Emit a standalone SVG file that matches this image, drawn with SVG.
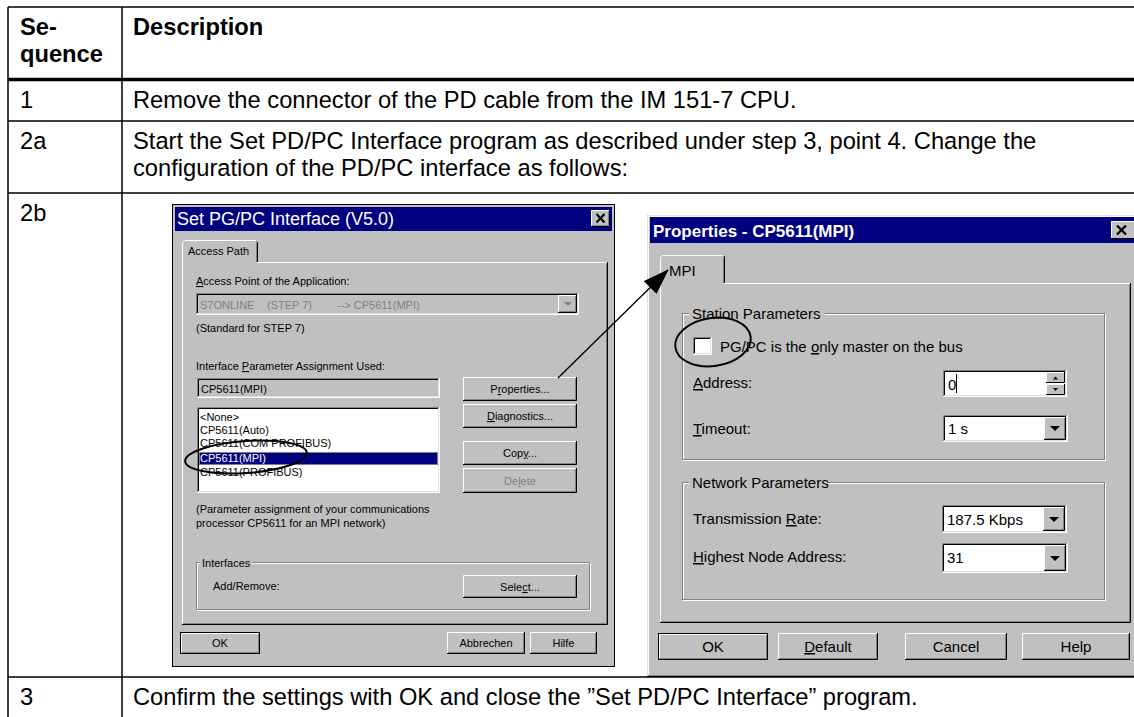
<svg xmlns="http://www.w3.org/2000/svg" width="1134" height="717" viewBox="0 0 1134 717">
<style>
text{font-family:"Liberation Sans",Arial,Helvetica,sans-serif;fill:#000}
.doc{font-size:23.7px}
.b{font-weight:bold}
.ui{font-size:11px}
.ui2{font-size:15px}
.mid{text-anchor:middle}
.grey{fill:#808080}
.wht{fill:#fff}
.u{text-decoration:underline}
.face{fill:#c0c0c0}
.hl{stroke:#fff;fill:none}
.lt{stroke:#dfdfdf;fill:none}
.sh{stroke:#808080;fill:none}
.dk{stroke:#000;fill:none}
.tl{stroke:#000;stroke-width:1.5;fill:none}
.ring{fill:none;stroke:#000;stroke-width:2}
</style>
<defs>
<marker id="ah" viewBox="0 0 26 18" markerWidth="26" markerHeight="18" refX="25" refY="9" orient="auto" markerUnits="userSpaceOnUse">
<path d="M0,0 L26,9 L0,18 z" fill="#000"/>
</marker>
</defs>

<g id="table">
<path class="tl" d="M8,7 H1134 M8,121 H1134 M8,193 H1134 M8,677 H1134 M8,7 V717 M122,7 V717"/>
<path d="M8,79.5 H1134" stroke="#000" stroke-width="3.5"/>
</g>

<g id="row-header">
<text class="doc b" x="20" y="35">Se-</text>
<text class="doc b" x="20" y="62">quence</text>
<text class="doc b" x="133" y="35">Description</text>
</g>
<g id="row-1">
<text class="doc" x="20" y="108">1</text>
<text class="doc" x="133" y="108">Remove the connector of the PD cable from the IM 151-7 CPU.</text>
</g>
<g id="row-2a">
<text class="doc" x="20" y="149">2a</text>
<text class="doc" x="133" y="149">Start the Set PD/PC Interface program as described under step 3, point 4. Change the</text>
<text class="doc" x="133" y="176">configuration of the PD/PC interface as follows:</text>
</g>
<g id="row-2b">
<text class="doc" x="20" y="221">2b</text>
</g>
<g id="row-3">
<text class="doc" x="20" y="705">3</text>
<text class="doc" x="133" y="705">Confirm the settings with OK and close the ”Set PD/PC Interface” program.</text>
</g>

<g id="dialog-setpgpc">
<rect x="172.5" y="204.5" width="442" height="462" class="face" stroke="#000"/>
<rect x="175" y="207" width="437" height="24" fill="#000080"/>
<text x="177" y="225" font-size="18" class="wht">Set PG/PC Interface (V5.0)</text>
<rect x="591" y="210" width="19" height="17" class="face"/>
<path class="hl" d="M591.5,226 V210.5 H609"/><path class="dk" d="M591,226.5 H609.5 V210"/><path class="sh" d="M592,225.5 H608.5 V211"/>
<path d="M596.5,214 L604.5,222.5 M604.5,214 L596.5,222.5" stroke="#000" stroke-width="2"/>
<path class="hl" d="M182.5,263 V242.5 L184.5,240.5 H256"/>
<path class="dk" d="M256.5,241.5 L257.5,242.5 V262"/>
<path class="sh" d="M256.5,243 V262"/>
<path class="hl" d="M182.5,262 V624 M257,262.5 H607"/>
<path class="dk" d="M182,624.5 H607.5 V262"/>
<path class="sh" d="M183,623.5 H606.5 V263"/>
<text class="ui" x="188" y="255">Access Path</text>
<text class="ui" x="196" y="285"><tspan class="u">A</tspan>ccess Point of the Application:</text>
<rect x="196" y="293" width="383" height="22" class="face"/>
<path class="sh" d="M196.5,314 V293.5 H578"/><path class="dk" d="M197.5,313 V294.5 H577"/><path class="hl" d="M196,314.5 H578.5 V293"/><path class="lt" d="M197,313.5 H577.5 V294"/>
<text class="ui grey" x="200" y="309">S7ONLINE</text>
<text class="ui grey" x="267" y="309">(STEP 7)</text>
<text class="ui grey" x="337" y="309">--&gt; CP5611(MPI)</text>
<rect x="558" y="295" width="19" height="18" class="face"/>
<path class="hl" d="M558.5,312 V295.5 H576"/><path class="dk" d="M558,312.5 H576.5 V295"/><path class="sh" d="M559,311.5 H575.5 V296"/>
<path d="M564,302 H572 L568,306 z" fill="#808080"/>
<text class="ui" x="196" y="332">(Standard for STEP 7)</text>
<text class="ui" x="196" y="370">Interface <tspan class="u">P</tspan>arameter Assignment Used:</text>
<rect x="197" y="378" width="243" height="20" class="face"/>
<path class="sh" d="M197.5,397 V378.5 H439"/><path class="dk" d="M198.5,396 V379.5 H438"/><path class="hl" d="M197,397.5 H439.5 V378"/><path class="lt" d="M198,396.5 H438.5 V379"/>
<text class="ui" x="201" y="393">CP5611(MPI)</text>
<rect x="197" y="407" width="243" height="86" fill="#fff"/>
<path class="sh" d="M197.5,492 V407.5 H439"/><path class="dk" d="M198.5,491 V408.5 H438"/><path class="hl" d="M197,492.5 H439.5 V407"/><path class="lt" d="M198,491.5 H438.5 V408"/>
<text class="ui" x="200" y="421">&lt;None&gt;</text>
<text class="ui" x="200" y="434">CP5611(Auto)</text>
<text class="ui" x="200" y="447">CP5611(COM PROFIBUS)</text>
<rect x="199" y="452" width="239" height="13" fill="#000080"/>
<rect x="199.5" y="452.5" width="238" height="12" fill="none" stroke="#ffff80" stroke-dasharray="1,1"/>
<text class="ui wht" x="200" y="462">CP5611(MPI)</text>
<text class="ui" x="200" y="476">CP5611(PROFIBUS)</text>
<rect x="463" y="377" width="114" height="24" class="face"/>
<path class="hl" d="M463.5,400 V377.5 H576"/><path class="dk" d="M463,400.5 H576.5 V377"/><path class="sh" d="M464,399.5 H575.5 V378"/>
<text class="ui mid" x="520" y="393">P<tspan class="u">r</tspan>operties...</text>
<rect x="463" y="404" width="114" height="24" class="face"/>
<path class="hl" d="M463.5,427 V404.5 H576"/><path class="dk" d="M463,427.5 H576.5 V404"/><path class="sh" d="M464,426.5 H575.5 V405"/>
<text class="ui mid" x="520" y="420"><tspan class="u">D</tspan>iagnostics...</text>
<rect x="463" y="441" width="114" height="24" class="face"/>
<path class="hl" d="M463.5,464 V441.5 H576"/><path class="dk" d="M463,464.5 H576.5 V441"/><path class="sh" d="M464,463.5 H575.5 V442"/>
<text class="ui mid" x="520" y="457">Cop<tspan class="u">y</tspan>...</text>
<rect x="463" y="468" width="114" height="25" class="face"/>
<path class="hl" d="M463.5,492 V468.5 H576"/><path class="dk" d="M463,492.5 H576.5 V468"/><path class="sh" d="M464,491.5 H575.5 V469"/>
<text class="ui mid grey" x="520" y="485">De<tspan class="u">l</tspan>ete</text>
<text class="ui" x="196" y="513">(Parameter assignment of your communications</text>
<text class="ui" x="196" y="527">processor CP5611 for an MPI network)</text>
<rect x="197.5" y="563.5" width="393" height="47" class="hl"/>
<rect x="196.5" y="562.5" width="393" height="47" class="sh"/>
<rect x="200" y="557" width="52" height="10" class="face"/>
<text class="ui" x="202" y="567">Interfaces</text>
<text class="ui" x="213" y="590">Add/Remove:</text>
<rect x="463" y="575" width="114" height="23" class="face"/>
<path class="hl" d="M463.5,597 V575.5 H576"/><path class="dk" d="M463,597.5 H576.5 V575"/><path class="sh" d="M464,596.5 H575.5 V576"/>
<text class="ui mid" x="520" y="591">Sele<tspan class="u">c</tspan>t...</text>
<rect x="180" y="632" width="80" height="22" class="face"/>
<rect x="180.5" y="632.5" width="79" height="21" class="dk"/>
<path class="hl" d="M181.5,652.5 V633.5 H258.5"/><path class="sh" d="M182,652.5 H258.5 V634"/>
<text class="ui mid" x="220" y="647">OK</text>
<rect x="447" y="632" width="78" height="22" class="face"/>
<path class="hl" d="M447.5,653 V632.5 H524"/><path class="dk" d="M447,653.5 H524.5 V632"/><path class="sh" d="M448,652.5 H523.5 V633"/>
<text class="ui mid" x="486" y="647">Abbrechen</text>
<rect x="530" y="632" width="67" height="22" class="face"/>
<path class="hl" d="M530.5,653 V632.5 H596"/><path class="dk" d="M530,653.5 H596.5 V632"/><path class="sh" d="M531,652.5 H595.5 V633"/>
<text class="ui mid" x="563.5" y="647">Hilfe</text>
</g>

<g id="dialog-properties">
<rect x="647" y="215" width="487" height="462" class="face"/>
<path class="lt" d="M647.5,677 V215.5 H1134"/><path class="hl" d="M648.5,676 V216.5 H1134"/>
<path class="dk" d="M647,676.5 H1134"/><path class="sh" d="M648,675.5 H1134"/>
<rect x="650" y="217" width="484" height="26" fill="#000080"/>
<text x="653" y="237" font-size="17" class="b wht">Properties - CP5611(MPI)</text>
<rect x="1111" y="221" width="23" height="18" class="face"/>
<path class="hl" d="M1111.5,238 V221.5 H1134"/><path class="dk" d="M1111,238.5 H1134"/>
<path d="M1117,225.5 L1126,234.5 M1126,225.5 L1117,234.5" stroke="#000" stroke-width="2.2"/>
<path class="hl" d="M660.5,284 V257.5 L662.5,255.5 H723"/>
<path class="dk" d="M723.5,256 L724.5,257 V283"/>
<path class="sh" d="M723.5,258 V283"/>
<path class="hl" d="M660.5,283 V622 M724,283.5 H1130"/>
<path class="dk" d="M660,622.5 H1130.5 V283"/>
<path class="sh" d="M661,621.5 H1129.5 V284"/>
<text class="ui2" x="669" y="276">MPI</text>
<rect x="683.5" y="314.5" width="422" height="146" class="hl"/>
<rect x="682.5" y="313.5" width="422" height="146" class="sh"/>
<rect x="689" y="306" width="136" height="12" class="face"/>
<text class="ui2" x="692" y="319">Station Parameters</text>
<rect x="693" y="337" width="19" height="18" fill="#fff"/>
<path class="sh" d="M693.5,354 V337.5 H711"/><path class="dk" d="M694.5,353 V338.5 H710"/><path class="hl" d="M693,354.5 H711.5 V337"/><path class="lt" d="M694,353.5 H710.5 V338"/>
<text class="ui2" x="720" y="352">PG/PC is the <tspan class="u">o</tspan>nly master on the bus</text>
<text class="ui2" x="693" y="388"><tspan class="u">A</tspan>ddress:</text>
<rect x="943" y="370" width="124" height="27" fill="#fff"/>
<path class="sh" d="M943.5,396 V370.5 H1066"/><path class="dk" d="M944.5,395 V371.5 H1065"/><path class="hl" d="M943,396.5 H1066.5 V370"/><path class="lt" d="M944,395.5 H1065.5 V371"/>
<text class="ui2" x="948" y="390">0</text>
<path d="M956.5,374 V393" stroke="#000"/>
<rect x="1046" y="372" width="19" height="11" class="face"/>
<path class="hl" d="M1046.5,382 V372.5 H1064"/><path class="dk" d="M1046,382.5 H1064.5 V372"/>
<path d="M1053,379.5 H1058 L1055.5,376.5 z" fill="#000"/>
<rect x="1046" y="384" width="19" height="11" class="face"/>
<path class="hl" d="M1046.5,394 V384.5 H1064"/><path class="dk" d="M1046,394.5 H1064.5 V384"/>
<path d="M1053,388 H1058 L1055.5,391 z" fill="#000"/>
<text class="ui2" x="693" y="434"><tspan class="u">T</tspan>imeout:</text>
<rect x="943" y="415" width="125" height="27" fill="#fff"/>
<path class="sh" d="M943.5,441 V415.5 H1067"/><path class="dk" d="M944.5,440 V416.5 H1066"/><path class="hl" d="M943,441.5 H1067.5 V415"/><path class="lt" d="M944,440.5 H1066.5 V416"/>
<text class="ui2" x="948" y="434">1 s</text>
<rect x="1044" y="417" width="22" height="23" class="face"/>
<path class="hl" d="M1044.5,439 V417.5 H1065"/><path class="dk" d="M1044,439.5 H1065.5 V417"/><path class="sh" d="M1045,438.5 H1064.5 V418"/>
<path d="M1050,426 H1060 L1055,431 z" fill="#000"/>
<rect x="683.5" y="483.5" width="422" height="117" class="hl"/>
<rect x="682.5" y="482.5" width="422" height="117" class="sh"/>
<rect x="689" y="475" width="138" height="12" class="face"/>
<text class="ui2" x="692" y="488">Network Parameters</text>
<text class="ui2" x="693" y="524">Transmission <tspan class="u">R</tspan>ate:</text>
<rect x="942" y="505" width="125" height="28" fill="#fff"/>
<path class="sh" d="M942.5,532 V505.5 H1066"/><path class="dk" d="M943.5,531 V506.5 H1065"/><path class="hl" d="M942,532.5 H1066.5 V505"/><path class="lt" d="M943,531.5 H1065.5 V506"/>
<text class="ui2" x="947" y="525">187.5 Kbps</text>
<rect x="1043" y="507" width="22" height="24" class="face"/>
<path class="hl" d="M1043.5,530 V507.5 H1064"/><path class="dk" d="M1043,530.5 H1064.5 V507"/><path class="sh" d="M1044,529.5 H1063.5 V508"/>
<path d="M1049,517 H1059 L1054,522 z" fill="#000"/>
<text class="ui2" x="693" y="562"><tspan class="u">H</tspan>ighest Node Address:</text>
<rect x="942" y="543" width="126" height="30" fill="#fff"/>
<path class="sh" d="M942.5,572 V543.5 H1067"/><path class="dk" d="M943.5,571 V544.5 H1066"/><path class="hl" d="M942,572.5 H1067.5 V543"/><path class="lt" d="M943,571.5 H1066.5 V544"/>
<text class="ui2" x="947" y="563">31</text>
<rect x="1044" y="545" width="22" height="26" class="face"/>
<path class="hl" d="M1044.5,570 V545.5 H1065"/><path class="dk" d="M1044,570.5 H1065.5 V545"/><path class="sh" d="M1045,569.5 H1064.5 V546"/>
<path d="M1050,556 H1060 L1055,561 z" fill="#000"/>
<rect x="658" y="633" width="110" height="27" class="face"/>
<rect x="658.5" y="633.5" width="109" height="26" class="dk"/>
<path class="hl" d="M659.5,658.5 V634.5 H766.5"/><path class="sh" d="M660,658.5 H766.5 V635"/>
<text class="ui2 mid" x="713" y="652">OK</text>
<rect x="778" y="633" width="100" height="27" class="face"/>
<path class="hl" d="M778.5,659 V633.5 H877"/><path class="dk" d="M778,659.5 H877.5 V633"/><path class="sh" d="M779,658.5 H876.5 V634"/>
<text class="ui2 mid" x="828" y="652"><tspan class="u">D</tspan>efault</text>
<rect x="905" y="633" width="102" height="27" class="face"/>
<path class="hl" d="M905.5,659 V633.5 H1006"/><path class="dk" d="M905,659.5 H1006.5 V633"/><path class="sh" d="M906,658.5 H1005.5 V634"/>
<text class="ui2 mid" x="956" y="652">Cancel</text>
<rect x="1022" y="633" width="108" height="27" class="face"/>
<path class="hl" d="M1022.5,659 V633.5 H1129"/><path class="dk" d="M1022,659.5 H1129.5 V633"/><path class="sh" d="M1023,658.5 H1128.5 V634"/>
<text class="ui2 mid" x="1076" y="652">Help</text>
</g>

<g id="connectors">
<path d="M558,378 L668,270" stroke="#000" stroke-width="1.4" fill="none" marker-end="url(#ah)"/>
<ellipse class="ring" cx="246" cy="457" rx="61" ry="16" transform="rotate(-4 246 457)"/>
<ellipse class="ring" cx="713" cy="342" rx="38" ry="24" transform="rotate(-8 713 342)"/>
</g>
</svg>
